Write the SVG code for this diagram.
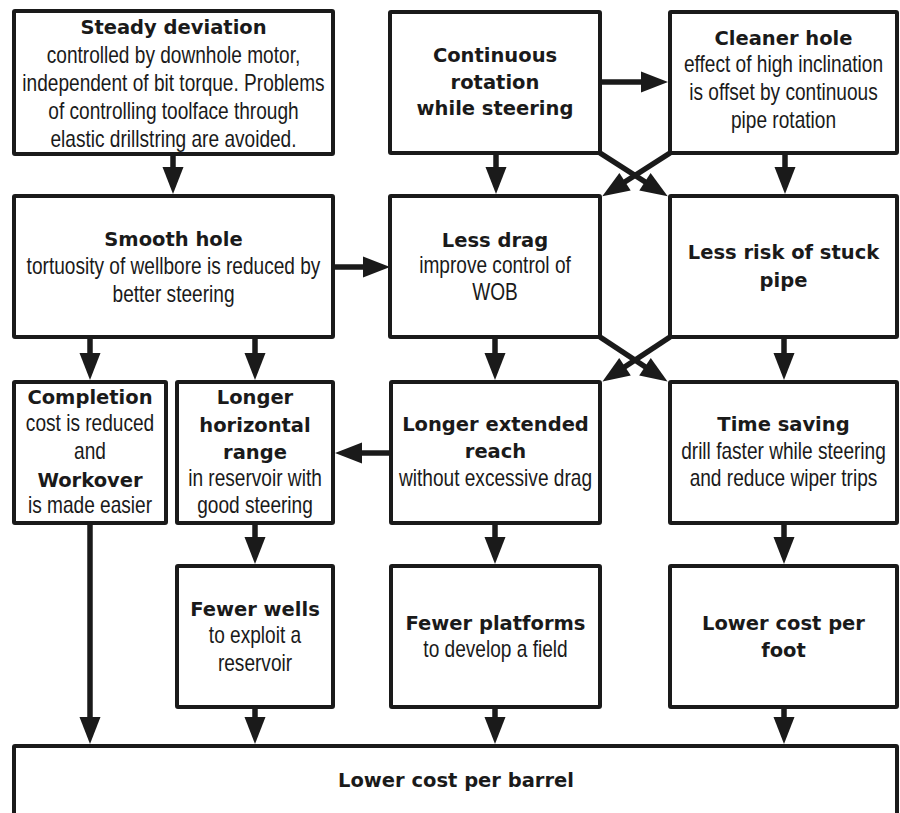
<svg xmlns="http://www.w3.org/2000/svg" width="900" height="813" viewBox="0 0 900 813">
<style>
rect.box{fill:#fff;stroke:#1a1a1a;stroke-width:4}
.t{font-family:"DejaVu Sans",Verdana,sans-serif;font-weight:bold;font-size:19.5px;text-anchor:middle;fill:#1a1a1a}
.b{font-family:"Liberation Sans",Arial,sans-serif;font-size:23px;text-anchor:middle;fill:#1a1a1a}
.c line{stroke:#1a1a1a;stroke-width:5.5;marker-end:url(#ah)}
</style>
<defs>
<marker id="ah" markerUnits="userSpaceOnUse" markerWidth="27" markerHeight="21" refX="6" refY="10.5" orient="auto" overflow="visible">
<path d="M0,0 L27,10.5 L0,21 Z" fill="#1a1a1a"/>
</marker>
</defs>
<rect width="900" height="813" fill="#fff"/>

<g class="c" id="connectors">
<line x1="173" y1="154" x2="173" y2="173"/>
<line x1="600" y1="82" x2="647" y2="82"/>
<line x1="496" y1="153" x2="496" y2="173"/>
<line x1="785" y1="153" x2="785" y2="173"/>
<line x1="600" y1="153" x2="650" y2="185"/>
<line x1="670" y1="153" x2="620" y2="185"/>
<line x1="333" y1="267" x2="369" y2="267"/>
<line x1="90" y1="337" x2="90" y2="359"/>
<line x1="255" y1="337" x2="255" y2="359"/>
<line x1="495" y1="337" x2="495" y2="359"/>
<line x1="784" y1="337" x2="784" y2="359"/>
<line x1="600" y1="337" x2="650" y2="370"/>
<line x1="670" y1="337" x2="620" y2="370"/>
<line x1="391" y1="453" x2="356" y2="453"/>
<line x1="255" y1="523" x2="255" y2="543"/>
<line x1="495" y1="523" x2="495" y2="543"/>
<line x1="784" y1="523" x2="784" y2="543"/>
<line x1="90" y1="523" x2="90" y2="723"/>
<line x1="255" y1="707" x2="255" y2="723"/>
<line x1="495" y1="707" x2="495" y2="723"/>
<line x1="784" y1="707" x2="784" y2="723"/>
</g>

<g id="steady">
<rect class="box" x="14" y="11" width="319" height="143" rx="1"/>
<text class="t" x="173.5" y="34">Steady deviation</text>
<g transform="translate(173.5,0) scale(0.83,1)">
<text class="b" x="0" y="63">controlled by downhole motor,</text>
<text class="b" x="0" y="91">independent of bit torque. Problems</text>
<text class="b" x="0" y="119">of controlling toolface through</text>
<text class="b" x="0" y="147">elastic drillstring are avoided.</text>
</g>
</g>

<g id="continuous">
<rect class="box" x="390" y="12" width="210" height="141" rx="1"/>
<text class="t" x="495" y="62">Continuous</text>
<text class="t" x="495" y="88.5">rotation</text>
<text class="t" x="495" y="115">while steering</text>
</g>

<g id="cleaner">
<rect class="box" x="670" y="12" width="227" height="141" rx="1"/>
<text class="t" x="783.5" y="45">Cleaner hole</text>
<g transform="translate(783.5,0) scale(0.83,1)">
<text class="b" x="0" y="72">effect of high inclination</text>
<text class="b" x="0" y="100">is offset by continuous</text>
<text class="b" x="0" y="128">pipe rotation</text>
</g>
</g>

<g id="smooth">
<rect class="box" x="14" y="196" width="319" height="141" rx="1"/>
<text class="t" x="173.5" y="246">Smooth hole</text>
<g transform="translate(173.5,0) scale(0.83,1)">
<text class="b" x="0" y="274.5">tortuosity of wellbore is reduced by</text>
<text class="b" x="0" y="302.5">better steering</text>
</g>
</g>

<g id="lessdrag">
<rect class="box" x="390" y="196" width="210" height="141" rx="1"/>
<text class="t" x="495" y="246.5">Less drag</text>
<g transform="translate(495,0) scale(0.83,1)">
<text class="b" x="0" y="273.5">improve control of</text>
<text class="b" x="0" y="300.5">WOB</text>
</g>
</g>

<g id="stuck">
<rect class="box" x="670" y="196" width="227" height="141" rx="1"/>
<text class="t" x="783.5" y="259">Less risk of stuck</text>
<text class="t" x="783.5" y="286.5">pipe</text>
</g>

<g id="completion">
<rect class="box" x="14" y="382" width="152" height="141" rx="1"/>
<text class="t" x="90" y="403.5">Completion</text>
<text class="t" x="90" y="486.5">Workover</text>
<g transform="translate(90,0) scale(0.83,1)">
<text class="b" x="0" y="431.5">cost is reduced</text>
<text class="b" x="0" y="459">and</text>
<text class="b" x="0" y="513.5">is made easier</text>
</g>
</g>

<g id="horizontal">
<rect class="box" x="177" y="382" width="156" height="141" rx="1"/>
<text class="t" x="255" y="403.5">Longer</text>
<text class="t" x="255" y="431.5">horizontal</text>
<text class="t" x="255" y="459">range</text>
<g transform="translate(255,0) scale(0.83,1)">
<text class="b" x="0" y="486.5">in reservoir with</text>
<text class="b" x="0" y="513.5">good steering</text>
</g>
</g>

<g id="extended">
<rect class="box" x="391" y="382" width="209" height="141" rx="1"/>
<text class="t" x="495.5" y="430.5">Longer extended</text>
<text class="t" x="495.5" y="458">reach</text>
<g transform="translate(495.5,0) scale(0.83,1)">
<text class="b" x="0" y="486.5">without excessive drag</text>
</g>
</g>

<g id="timesaving">
<rect class="box" x="670" y="382" width="227" height="141" rx="1"/>
<text class="t" x="783.5" y="430.5">Time saving</text>
<g transform="translate(783.5,0) scale(0.83,1)">
<text class="b" x="0" y="459">drill faster while steering</text>
<text class="b" x="0" y="486.5">and reduce wiper trips</text>
</g>
</g>

<g id="wells">
<rect class="box" x="177" y="566" width="156" height="141" rx="1"/>
<text class="t" x="255" y="616">Fewer wells</text>
<g transform="translate(255,0) scale(0.83,1)">
<text class="b" x="0" y="643.5">to exploit a</text>
<text class="b" x="0" y="671">reservoir</text>
</g>
</g>

<g id="platforms">
<rect class="box" x="391" y="566" width="209" height="141" rx="1"/>
<text class="t" x="495.5" y="629.5">Fewer platforms</text>
<g transform="translate(495.5,0) scale(0.83,1)">
<text class="b" x="0" y="657">to develop a field</text>
</g>
</g>

<g id="costfoot">
<rect class="box" x="670" y="566" width="227" height="141" rx="1"/>
<text class="t" x="783.5" y="630">Lower cost per</text>
<text class="t" x="783.5" y="657">foot</text>
</g>

<g id="costbarrel">
<rect class="box" x="14" y="746" width="883" height="90" rx="1"/>
<text class="t" x="456" y="787">Lower cost per barrel</text>
</g>
</svg>
